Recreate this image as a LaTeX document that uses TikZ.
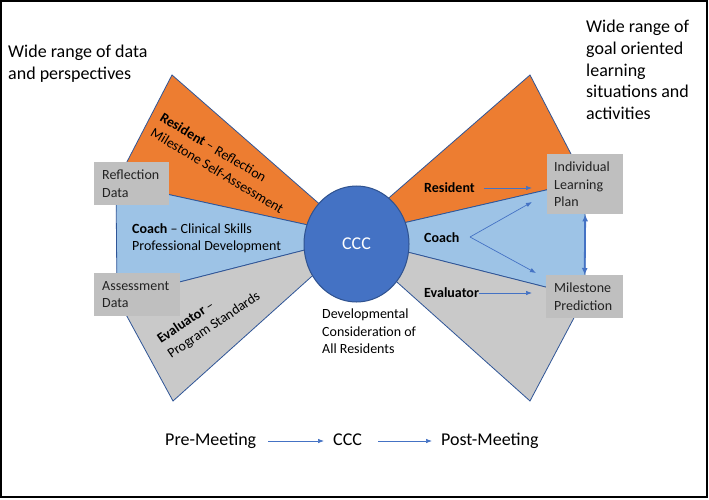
\documentclass[tikz,border=0pt]{standalone}
\usepackage{fontspec}
\setmainfont{Carlito}
\usetikzlibrary{arrows.meta,shapes.geometric}
\definecolor{orng}{HTML}{ED7D31}
\definecolor{lblue}{HTML}{9DC3E6}
\definecolor{wgray}{HTML}{C9C9C9}
\definecolor{bgray}{HTML}{BFBFBF}
\definecolor{edge}{HTML}{2F5597}
\definecolor{cfill}{HTML}{4472C4}
\definecolor{cdraw}{HTML}{2F528F}
\definecolor{arr}{HTML}{4472C4}
\definecolor{boxtext}{HTML}{222222}
\begin{document}
\begin{tikzpicture}[x=1pt,y=-1pt,
  wedge/.style={draw=edge, line width=0.8pt, line join=miter},
  small/.style={font=\fontsize{14}{17.5}\selectfont},
  big/.style={font=\fontsize{18}{21.7}\selectfont},
  box/.style={fill=bgray, small, text=boxtext, align=left, inner ysep=0pt, anchor=north west},
  lbl/.style={small, inner sep=0pt},
  rlbl/.style={font=\fontsize{14}{18}\selectfont, inner sep=0pt, align=left},
  bigtxt/.style={big, inner sep=0pt, anchor=north west, align=left},
  flow/.style={-{Latex[length=6pt,width=4.5pt]}, draw=arr, line width=0.7pt},
  dbl/.style={{Latex[length=7pt,width=6pt]}-{Latex[length=7pt,width=6pt]}, draw=arr, line width=1.8pt},
  stage/.style={big, inner sep=0pt, anchor=west, text height=12pt, text depth=4pt}
]
\useasboundingbox (0,0) rectangle (709,500);
\fill[white] (0,0) rectangle (709,500);
\draw[line width=1.2pt] (1,1) rectangle (707,497);

% left wedges
\filldraw[wedge, fill=orng] (172,75) -- (340,222) -- (340,232) -- (116,183) -- cycle;
\filldraw[wedge, fill=lblue] (116,183) -- (340,232) -- (340,241) -- (117,298) -- cycle;
\filldraw[wedge, fill=wgray] (117,298) -- (340,241) -- (340,251) -- (173,401) -- cycle;
% right wedges
\filldraw[wedge, fill=orng] (360,223) -- (530,75) -- (585,181) -- (360,233) -- cycle;
\filldraw[wedge, fill=lblue] (360,233) -- (585,181) -- (585,297) -- (360,240) -- cycle;
\filldraw[wedge, fill=wgray] (360,240) -- (585,297) -- (530,401) -- (360,249) -- cycle;

% centre
\node[ellipse, fill=cfill, draw=cdraw, line width=1pt, minimum width=105pt, minimum height=116pt, inner sep=0pt, text=white, font=\fontsize{18}{20}\selectfont] (ccc) at (356.5,244) {CCC};

% boxes
\node[box, inner xsep=8pt, text width=59pt, minimum height=43pt] (refl) at (94,162) {Reflection\\Data};
\node[box, inner xsep=8pt, text width=70pt, minimum height=43pt] (assess) at (94,273) {Assessment\\Data};
\node[box, inner xsep=7pt, text width=62pt, minimum height=60pt] (ilp) at (547,154) {Individual\\Learning\\Plan};
\node[box, inner xsep=8pt, text width=61pt, minimum height=43pt] (mp) at (546,275) {Milestone\\Prediction};

% left labels
\node[rlbl, rotate=-31] (resL) at (222,163) {\textbf{Resident} – Reflection\\Milestone Self-Assessment};
\node[lbl, align=left, anchor=west] (coachL) at (132,238) {\textbf{Coach} – Clinical Skills\\Professional Development};
\node[rlbl, rotate=34] (evL) at (209,318) {\textbf{Evaluator} –\\Program Standards};

% right labels
\node[lbl, anchor=west] (resR) at (424,188) {\textbf{Resident}};
\node[lbl, anchor=west] (coachR) at (424,238) {\textbf{Coach}};
\node[lbl, anchor=west] (evR) at (424,293) {\textbf{Evaluator}};

\coordinate (resEnd) at (532,188);
\coordinate (cf) at (470,237);
\coordinate (ilpIn) at (532,202);
\coordinate (mpIn) at (536,273);
\coordinate (evEnd) at (532,293);
\draw[flow, shorten <=9pt] (resR.east) -- (resEnd);
\draw[flow] (cf) -- (ilpIn);
\draw[flow] (cf) -- (mpIn);
\draw[flow] (evR.east) -- (evEnd);
\draw[dbl] (ilp.south) -- (mp.north);

% texts
\node[bigtxt] (topL) at (8,45) {Wide range of data\\and perspectives};
\node[bigtxt] (topR) at (586,20) {Wide range of\\goal oriented\\learning\\situations and\\activities};
\node[lbl, anchor=north west, align=left] (dev) at (322,309) {Developmental\\Consideration of\\All Residents};

% bottom flow
\node[stage] (pre) at (165,441) {Pre-Meeting};
\node[stage] (mid) at (333,441) {CCC};
\node[stage] (post) at (441,441) {Post-Meeting};
\draw[flow, shorten <=12pt, shorten >=9pt] (pre.east) -- (mid.west);
\draw[flow, shorten <=16pt, shorten >=9pt] (mid.east) -- (post.west);
\end{tikzpicture}
\end{document}
